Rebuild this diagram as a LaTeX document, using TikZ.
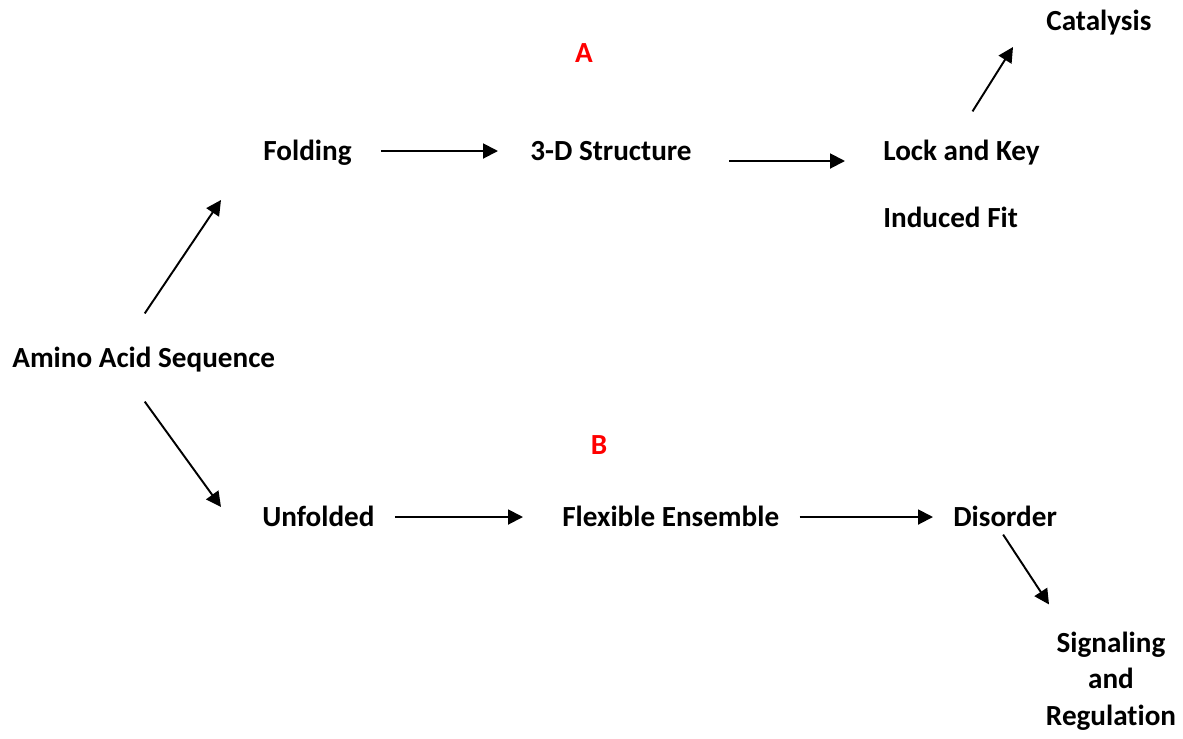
\documentclass[tikz,border=0pt]{standalone}
\usepackage{fontspec}
\setmainfont{Carlito}[Ligatures=NoCommon]
\usetikzlibrary{arrows.meta,calc}
\begin{document}
\begin{tikzpicture}[x=0.02cm, y=-0.02cm,
	wort/.style={font=\fontsize{16.6}{20.7}\selectfont\bfseries, inner sep=0pt,
		text height=0.37cm, text depth=0pt, anchor=west},
	marke/.style={font=\fontsize{16.6}{20}\selectfont\bfseries, inner sep=0pt,
		text height=0.37cm, text depth=0pt, text=red},
	pfeil/.style={line width=1.1pt, -{Triangle[length=0.3cm, width=0.3cm]}}]
	\useasboundingbox (0,0) rectangle (1183,738);
	% Beschriftung
	\node[wort] (seq) at (12,358) {Amino Acid Sequence};
	\node[wort] (fold) at (263,151) {Folding};
	\node[wort] (struct) at (530,151) {3-D Structure};
	\node[wort] (lock) at (883,151) {Lock and Key};
	\node[wort] (fit) at (883,218) {Induced Fit};
	\node[wort] (cat) at (1046,21) {Catalysis};
	\node[wort] (unf) at (262,517) {Unfolded};
	\node[wort] (flex) at (562,517) {Flexible Ensemble};
	\node[wort] (dis) at (953,517) {Disorder};
	\node[font=\fontsize{16.6}{20.7}\selectfont\bfseries, inner sep=0pt, align=center,
		anchor=base] (sig) at (1111,725) {Signaling\\and\\Regulation};
	% Markierungen
	\node[marke] (a) at (584,53) {A};
	\node[marke] (b) at (599,445) {B};
	% Pfeile oben
	\draw[pfeil] ($(seq.north)+(1,-35)$) -- ($(fold.west)+(-42,49)$);
	\draw[pfeil] ($(fold.east)+(29,0)$) -- ($(struct.west)+(-32,0)$);
	\draw[pfeil] ($(struct.east)+(37,10)$) -- ($(lock.west)+(-38,10)$);
	\draw[pfeil] ($(lock.north)+(11,-30)$) -- ($(cat.west)+(-33,26)$);
	% Pfeile unten
	\draw[pfeil] ($(seq.south)+(1,34)$) -- ($(unf.west)+(-41,-10)$);
	\draw[pfeil] ($(unf.east)+(20,0)$) -- ($(flex.west)+(-39,0)$);
	\draw[pfeil] ($(flex.east)+(20,0)$) -- ($(dis.west)+(-20,0)$);
	\draw[pfeil] ($(dis.south)+(-2,8)$) -- ($(sig.north)+(-62,-27)$);
\end{tikzpicture}
\end{document}
